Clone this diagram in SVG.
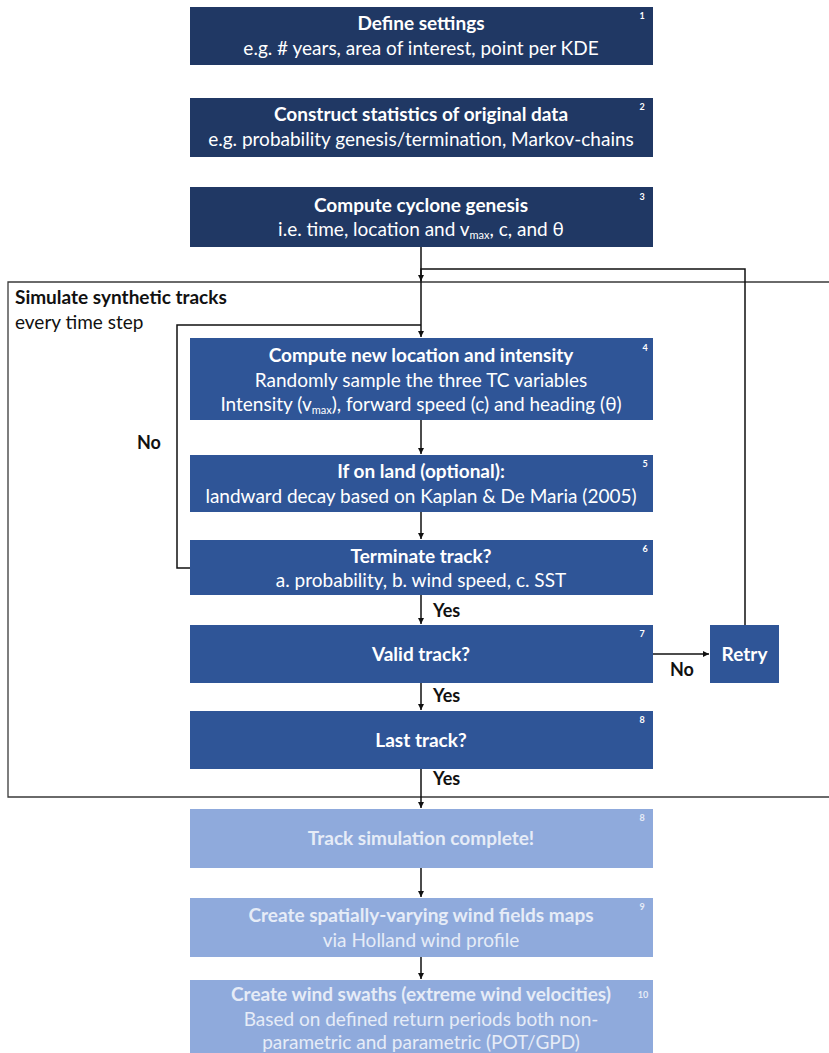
<svg xmlns="http://www.w3.org/2000/svg" width="829" height="1053" viewBox="0 0 829 1053">
<defs>
<style>
text{font-family:Lato,"Liberation Sans",sans-serif;}
.t{font-size:19px;font-weight:bold;fill:#fff;text-anchor:middle;}
.s{font-size:19px;fill:#fff;text-anchor:middle;}
.n{font-size:9px;font-weight:bold;fill:#fff;text-anchor:middle;}
.lt{font-size:19px;font-weight:bold;fill:#e6ecf7;text-anchor:middle;}
.ls{font-size:19px;fill:#e6ecf7;text-anchor:middle;}
.lab{font-size:18px;font-weight:bold;fill:#111;}
.dark{fill:#203864;}
.mid{fill:#2f5597;}
.light{fill:#8faadc;}
.c{fill:none;stroke:#111;stroke-width:1.5;}
.sub{font-size:11px;}
</style>
<marker id="ah" markerWidth="6" markerHeight="6" refX="6" refY="3" orient="auto" markerUnits="userSpaceOnUse">
<path d="M0,0 L6,3 L0,6 z" fill="#111"/>
</marker>
</defs>
<rect width="829" height="1053" fill="#fff"/>

<g id="frame">
<path d="M831,282 H8 V797 H831" fill="none" stroke="#3a3a3a" stroke-width="1.3"/>
<text x="15" y="304" style="font-size:19px;font-weight:bold;fill:#111">Simulate synthetic tracks</text>
<text x="15" y="329" style="font-size:19px;fill:#111">every time step</text>
</g>

<g id="connectors">
<path class="c" d="M421,247 V337" marker-end="url(#ah)"/>
<path class="c" d="M745,625 V269 H421 V281" marker-end="url(#ah)"/>
<path class="c" d="M190,568 H177 V325 H421"/>
<path class="c" d="M421,420 V454" marker-end="url(#ah)"/>
<path class="c" d="M421,512 V539" marker-end="url(#ah)"/>
<path class="c" d="M421,595 V624" marker-end="url(#ah)"/>
<path class="c" d="M653,654 H709" marker-end="url(#ah)"/>
<path class="c" d="M421,683 V710" marker-end="url(#ah)"/>
<path class="c" d="M421,769 V808" marker-end="url(#ah)"/>
<path class="c" d="M421,868 V897" marker-end="url(#ah)"/>
<path class="c" d="M421,957 V979" marker-end="url(#ah)"/>
<text x="137" y="449" class="lab">No</text>
<text x="433" y="617" class="lab">Yes</text>
<text x="433" y="702" class="lab">Yes</text>
<text x="433" y="785" class="lab">Yes</text>
<text x="670" y="676" class="lab">No</text>
</g>

<g id="n1">
<rect x="190" y="7" width="463" height="58" class="dark"/>
<text x="421" y="30" class="t">Define settings</text>
<text x="421" y="55" class="s">e.g. # years, area of interest, point per KDE</text>
<text x="642" y="19" class="n">1</text>
</g>

<g id="n2">
<rect x="190" y="98" width="463" height="59" class="dark"/>
<text x="421" y="121" class="t">Construct statistics of original data</text>
<text x="421" y="146" class="s">e.g. probability genesis/termination, Markov-chains</text>
<text x="642" y="110" class="n">2</text>
</g>

<g id="n3">
<rect x="190" y="187" width="463" height="60" class="dark"/>
<text x="421" y="212" class="t">Compute cyclone genesis</text>
<text x="421" y="236" class="s">i.e. time, location and v<tspan class="sub" dy="3">max</tspan><tspan dy="-3">, c, and θ</tspan></text>
<text x="642" y="200" class="n">3</text>
</g>

<g id="n4">
<rect x="190" y="338" width="463" height="82" class="mid"/>
<text x="421" y="362" class="t">Compute new location and intensity</text>
<text x="421" y="387" class="s">Randomly sample the three TC variables</text>
<text x="421" y="411" class="s">Intensity (v<tspan class="sub" dy="3">max</tspan><tspan dy="-3">), forward speed (c) and heading (θ)</tspan></text>
<text x="645" y="351" class="n">4</text>
</g>

<g id="n5">
<rect x="190" y="455" width="463" height="57" class="mid"/>
<text x="421" y="478" class="t">If on land (optional):</text>
<text x="421" y="503" class="s">landward decay based on Kaplan &amp; De Maria (2005)</text>
<text x="645" y="467" class="n">5</text>
</g>

<g id="n6">
<rect x="190" y="540" width="463" height="55" class="mid"/>
<text x="421" y="563" class="t">Terminate track?</text>
<text x="421" y="587" class="s">a. probability, b. wind speed, c. SST</text>
<text x="645" y="552" class="n">6</text>
</g>

<g id="n7">
<rect x="190" y="625" width="463" height="58" class="mid"/>
<text x="421" y="661" class="t">Valid track?</text>
<text x="642" y="637" class="n">7</text>
</g>

<g id="retry">
<rect x="710" y="625" width="69" height="58" class="mid"/>
<text x="744.5" y="661" class="t">Retry</text>
</g>

<g id="n8">
<rect x="190" y="711" width="463" height="58" class="mid"/>
<text x="421" y="747" class="t">Last track?</text>
<text x="642" y="723" class="n">8</text>
</g>

<g id="n8b">
<rect x="190" y="809" width="463" height="59" class="light"/>
<text x="421" y="845" class="lt">Track simulation complete!</text>
<text x="642" y="821" class="n" style="fill:#e6ecf7">8</text>
</g>

<g id="n9">
<rect x="190" y="898" width="463" height="59" class="light"/>
<text x="421" y="922" class="lt">Create spatially-varying wind fields maps</text>
<text x="421" y="947" class="ls">via Holland wind profile</text>
<text x="642" y="910" class="n" style="fill:#e6ecf7">9</text>
</g>

<g id="n10">
<rect x="190" y="980" width="463" height="80" class="light"/>
<text x="421" y="1001" class="lt">Create wind swaths (extreme wind velocities)</text>
<text x="421" y="1026" class="ls">Based on defined return periods both non-</text>
<text x="421" y="1049" class="ls">parametric and parametric (POT/GPD)</text>
<text x="643" y="998" class="n" style="fill:#e6ecf7">10</text>
</g>
</svg>
